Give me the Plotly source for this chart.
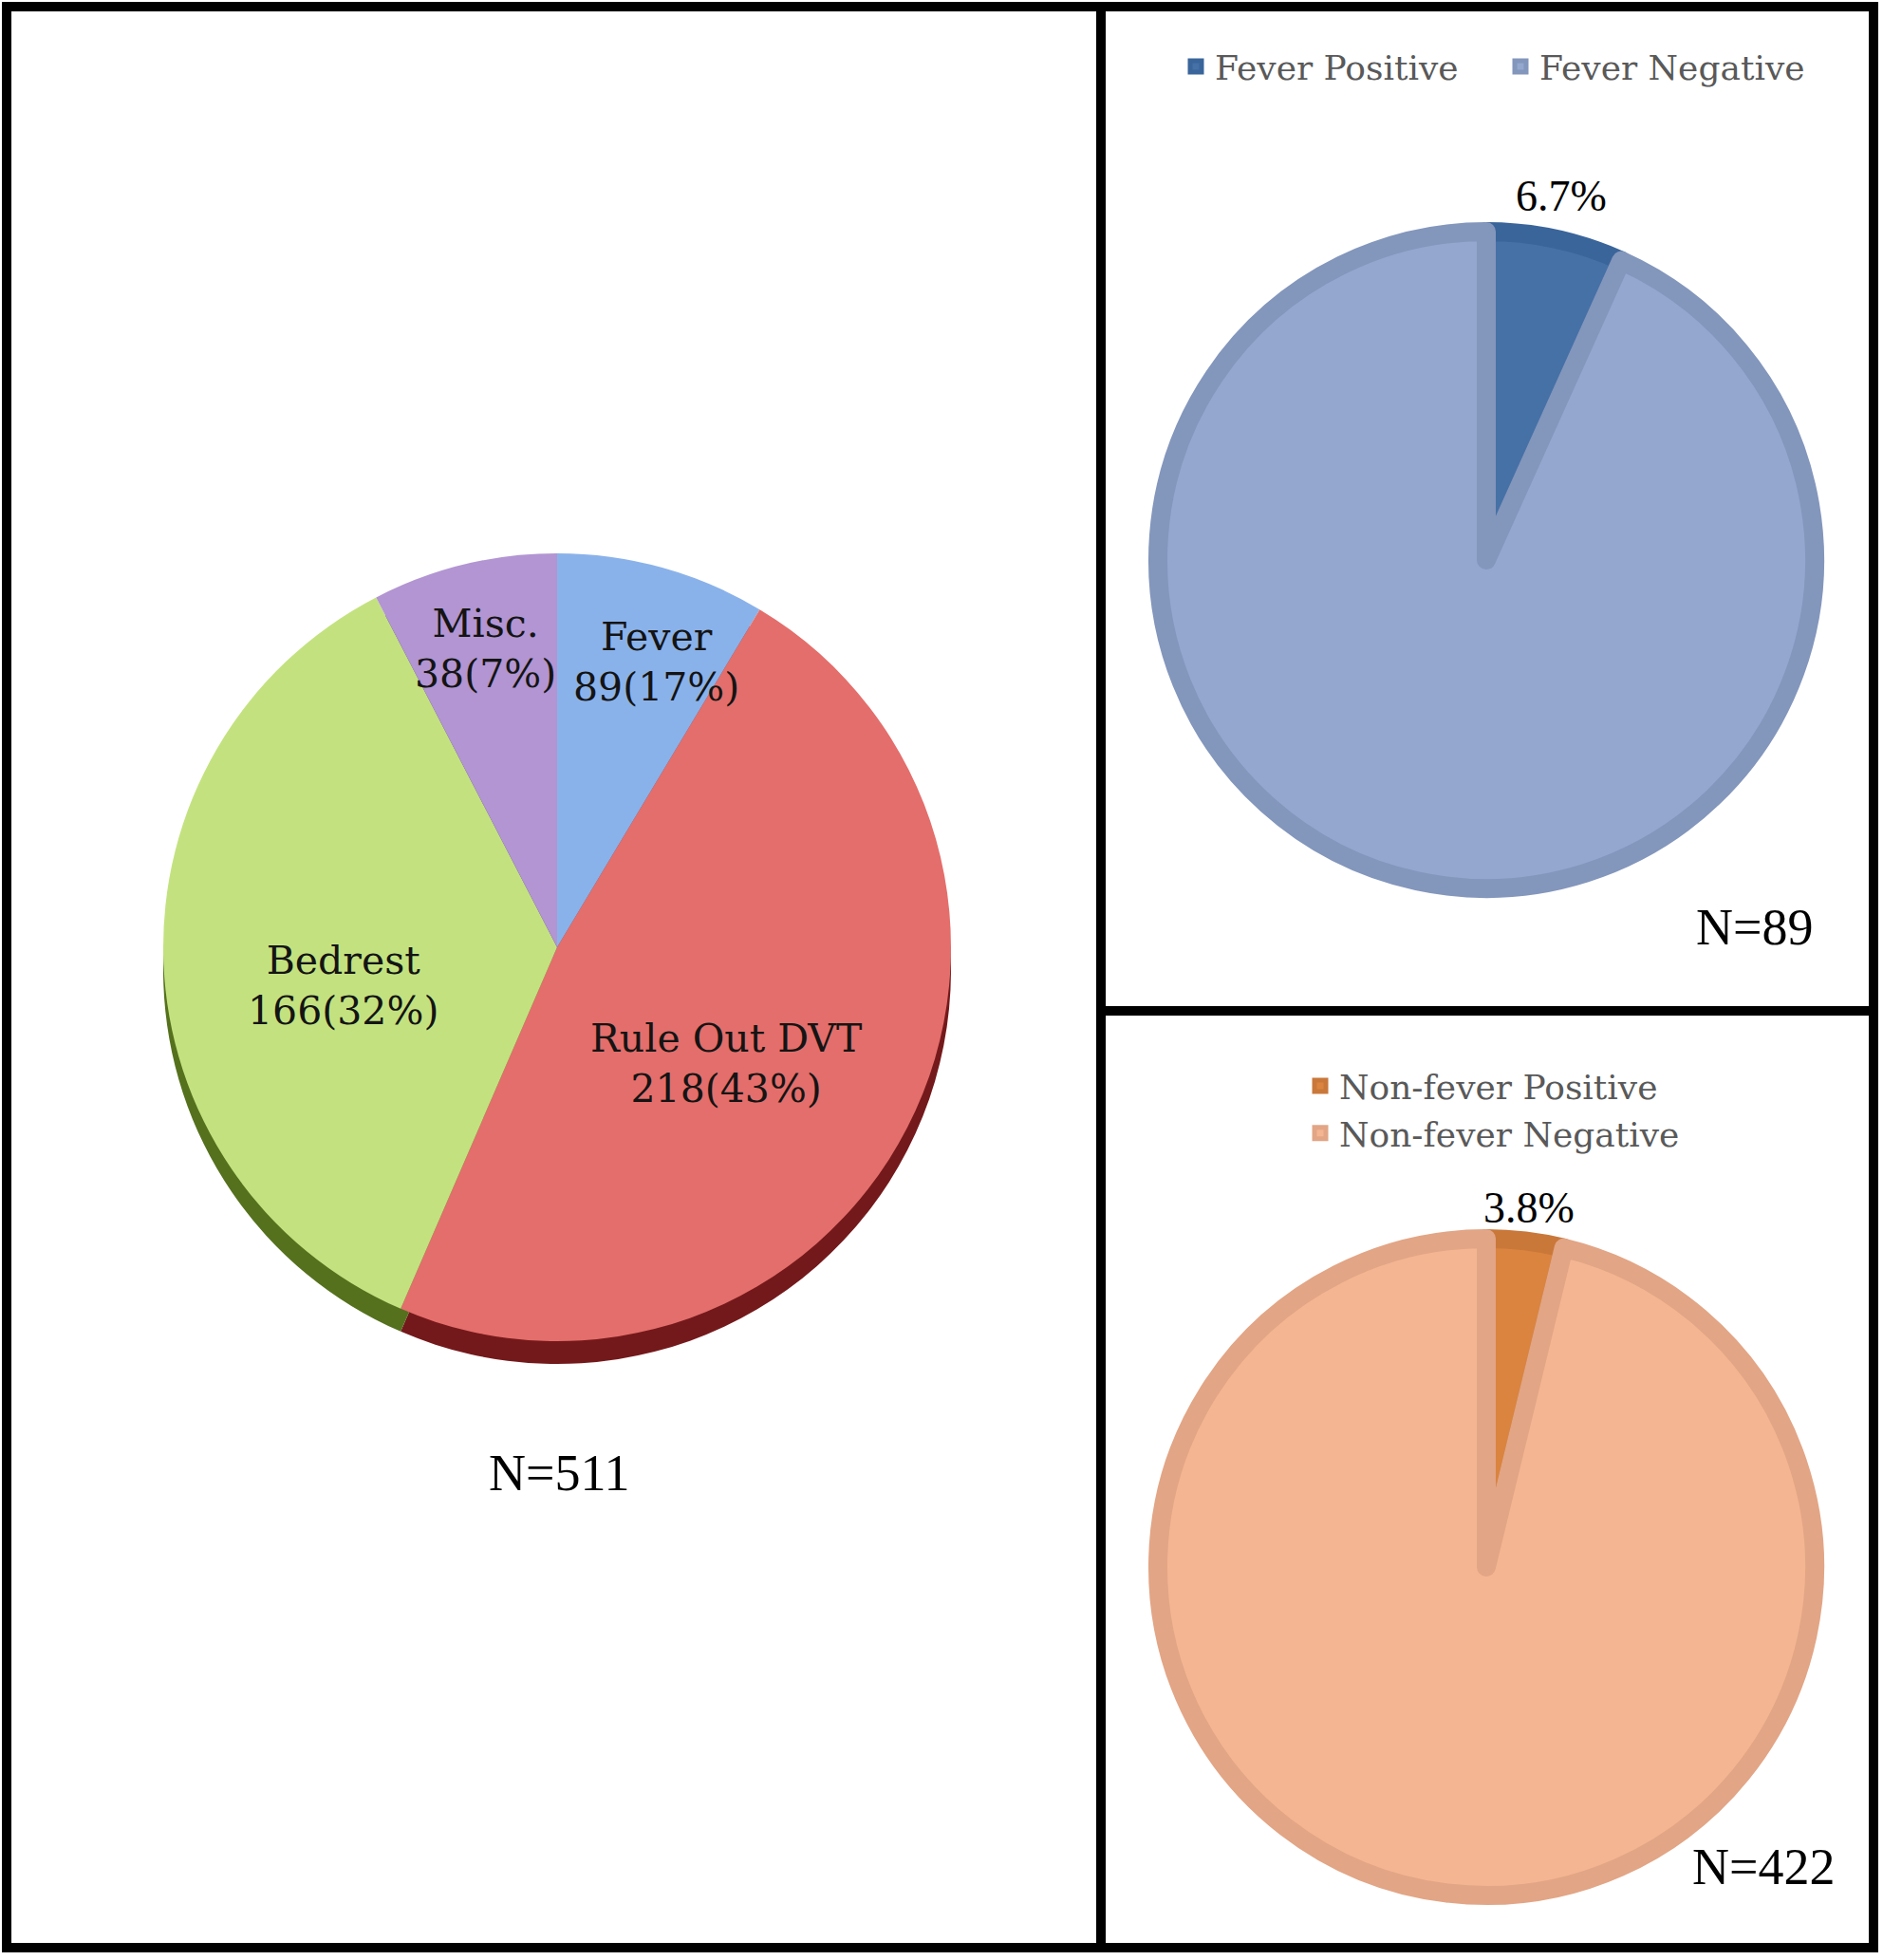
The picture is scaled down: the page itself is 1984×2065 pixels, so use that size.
import plotly.graph_objects as go

W, H = 1984, 2065

# ---------------- data ----------------
causes = ["Fever", "Rule Out DVT", "Bedrest", "Misc."]
cause_counts = [89, 218, 166, 38]
# slice sizes as drawn in the picture (angular share, %)
cause_slice_share = [8.6, 47.9, 35.9, 7.6]
cause_colors = ["#8ab2ea", "#e46e6b", "#c3e27f", "#b295d2"]
cause_shadow = ["#3f6aa0", "#74191b", "#55711d", "#5b3f80"]

fever_labels = ["Fever Positive", "Fever Negative"]
fever_counts = [6, 83]
fever_colors = ["#4571a7", "#93a7cf"]
fever_edges = ["#3a659b", "#8396bc"]

nonfever_labels = ["Non-fever Positive", "Non-fever Negative"]
nonfever_counts = [16, 406]
nonfever_colors = ["#da843f", "#f4b592"]
nonfever_edges = ["#c9783a", "#e2a585"]


def px_x(x):
    return x / W


def px_y(y):
    return 1 - y / H


def dom(cx, cy, r):
    return dict(x=[px_x(cx - r), px_x(cx + r)], y=[px_y(cy + r), px_y(cy - r)])


fig = go.Figure()

# left pie: shadow (3D edge) then face
fig.add_trace(go.Pie(labels=causes, values=cause_slice_share, sort=False,
                     direction="clockwise", rotation=0, domain=dom(587, 1022, 415),
                     marker=dict(colors=cause_shadow, line=dict(width=0)),
                     textinfo="none", hoverinfo="skip", showlegend=False))
fig.add_trace(go.Pie(labels=causes, values=cause_slice_share, sort=False,
                     direction="clockwise", rotation=0, domain=dom(587, 998, 415),
                     marker=dict(colors=cause_colors, line=dict(width=0)),
                     textinfo="none", showlegend=False))

LW = 20
R = 356 - LW / 2
fig.add_trace(go.Pie(labels=fever_labels, values=fever_counts, sort=False,
                     direction="clockwise", rotation=0, domain=dom(1566, 590, R),
                     marker=dict(colors=fever_colors, line=dict(color=fever_edges, width=LW)),
                     textinfo="none", legend="legend"))
fig.add_trace(go.Pie(labels=nonfever_labels, values=nonfever_counts, sort=False,
                     direction="clockwise", rotation=0, domain=dom(1566, 1651, R),
                     marker=dict(colors=nonfever_colors, line=dict(color=nonfever_edges, width=LW)),
                     textinfo="none", legend="legend2"))

annotations = []
total = sum(cause_counts)
label_pos = {"Fever": (691, 697), "Rule Out DVT": (765, 1120),
             "Bedrest": (361, 1038), "Misc.": (511, 684)}
for name, cnt in zip(causes, cause_counts):
    x, y = label_pos[name]
    pct = round(cnt / total * 100)
    annotations.append(dict(x=px_x(x), y=px_y(y), xref="paper", yref="paper",
                            text=f"{name}<br>{cnt}({pct}%)", showarrow=False,
                            font=dict(family="DejaVu Serif", size=41, color="#141414"),
                            xanchor="center", yanchor="middle"))

fpct = fever_counts[0] / sum(fever_counts) * 100
npct = nonfever_counts[0] / sum(nonfever_counts) * 100
for txt, x, y, size in [
    (f"{fpct:.1f}%", 1645, 207, 46),
    (f"{npct:.1f}%", 1611, 1272, 46),
    (f"N={total}", 589, 1552, 54),
    (f"N={sum(fever_counts)}", 1848, 977, 54),
    (f"N={sum(nonfever_counts)}", 1858, 1967, 54),
]:
    annotations.append(dict(x=px_x(x), y=px_y(y), xref="paper", yref="paper", text=txt,
                            showarrow=False, xanchor="center", yanchor="middle",
                            font=dict(family="Liberation Serif", size=size, color="#000000")))

shapes = [
    dict(type="rect", xref="paper", yref="paper", x0=px_x(7), x1=px_x(1974),
         y0=px_y(2052), y1=px_y(7), line=dict(color="black", width=10)),
    dict(type="line", xref="paper", yref="paper", x0=px_x(1160), x1=px_x(1160),
         y0=px_y(2052), y1=px_y(7), line=dict(color="black", width=10)),
    dict(type="line", xref="paper", yref="paper", x0=px_x(1160), x1=px_x(1974),
         y0=px_y(1065), y1=px_y(1065), line=dict(color="black", width=10)),
]

legend_font = dict(family="DejaVu Serif", size=36, color="#595959")
fig.update_layout(
    width=W, height=H, margin=dict(l=0, r=0, t=0, b=0),
    paper_bgcolor="white", plot_bgcolor="white",
    annotations=annotations, shapes=shapes,
    legend=dict(orientation="h", x=px_x(1240), y=px_y(40), xanchor="left", yanchor="top",
                font=legend_font, entrywidth=297, bgcolor="rgba(0,0,0,0)"),
    legend2=dict(orientation="v", x=px_x(1371), y=px_y(1114), xanchor="left", yanchor="top",
                 font=legend_font, bgcolor="rgba(0,0,0,0)"),
)

fig.write_html("out.html", config={"displayModeBar": False},
               post_script="document.body.style.margin='0';")
